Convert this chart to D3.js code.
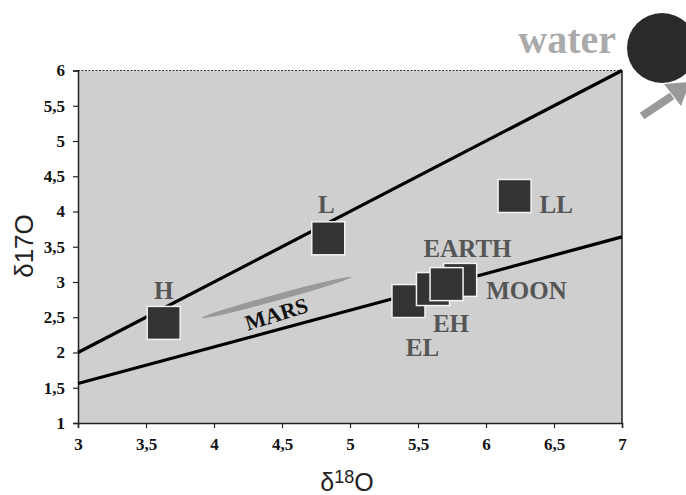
<!DOCTYPE html>
<html>
<head>
<meta charset="utf-8">
<script src="https://cdn.jsdelivr.net/npm/d3@7"></script>
<style>
  html, body { margin: 0; padding: 0; background: #fff; }
  svg { display: block; }
</style>
</head>
<body>
<svg id="chart" width="686" height="495"></svg>
<script>
// Oxygen three-isotope plot: meteorite groups, Earth, Moon, Mars
const xTicks = [3, 3.5, 4, 4.5, 5, 5.5, 6, 6.5, 7];
const yTicks = [1, 1.5, 2, 2.5, 3, 3.5, 4, 4.5, 5, 5.5, 6];
const tickLabel = v => String(v).replace(".", ",");

// Group names and their (δ18O, δ17O) positions, drawn back to front
const groups = ["MOON", "EL", "EH", "EARTH", "H", "L", "LL"];
const d18O   = [5.81, 5.43, 5.61, 5.71, 3.63, 4.84, 6.21];
const d17O   = [3.03, 2.73, 2.90, 2.97, 2.42, 3.62, 4.22];

// Reference lines: slope-1 line and terrestrial fractionation line
const slopeOneLine = [[3, 2.0], [7, 6.0]];
const tflLine      = [[3, 1.56], [7, 3.64]];

// Martian meteorite field (end points of the elongated ellipse)
const marsField = [[3.91, 2.49], [5.01, 3.07]];

const svg = d3.select("#chart");
const x = d3.scaleLinear().domain([3, 7]).range([78, 622]);
const y = d3.scaleLinear().domain([1, 6]).range([423, 70.5]);

const serif = "'Liberation Serif', 'Times New Roman', serif";
const sans = "'Liberation Sans', Arial, sans-serif";

// plot background
svg.append("rect")
  .attr("x", x(3)).attr("y", y(6))
  .attr("width", x(7) - x(3)).attr("height", y(1) - y(6))
  .attr("fill", "#cfcfcf");

// top border dashed, right border solid
svg.append("line")
  .attr("x1", x(3)).attr("x2", x(7)).attr("y1", y(6)).attr("y2", y(6))
  .attr("stroke", "#333").attr("stroke-width", 1.2).attr("stroke-dasharray", "2,1.5");
svg.append("line")
  .attr("x1", x(7)).attr("x2", x(7)).attr("y1", y(6)).attr("y2", y(1))
  .attr("stroke", "#222").attr("stroke-width", 1.5);

// axes
const xAxis = svg.append("g").attr("transform", `translate(0,${y(1)})`)
  .call(d3.axisBottom(x).tickValues(xTicks).tickFormat(tickLabel).tickSize(5).tickPadding(10));
const yAxis = svg.append("g").attr("transform", `translate(${x(3)},0)`)
  .call(d3.axisLeft(y).tickValues(yTicks).tickFormat(tickLabel).tickSize(5).tickPadding(8));
[xAxis, yAxis].forEach(g => {
  g.select(".domain").attr("stroke", "#222").attr("stroke-width", 1.5);
  g.selectAll(".tick line").attr("stroke", "#222").attr("stroke-width", 1.2);
  g.selectAll(".tick text")
    .attr("font-family", serif).attr("font-weight", "bold")
    .attr("font-size", 17).attr("fill", "#111");
});

// reference lines
const lineGen = d3.line().x(d => x(d[0])).y(d => y(d[1]));
[slopeOneLine, tflLine].forEach(pts => {
  svg.append("path").attr("d", lineGen(pts))
    .attr("fill", "none").attr("stroke", "#000").attr("stroke-width", 3.2);
});

// Mars field as a thin rotated ellipse
{
  const [p0, p1] = marsField;
  const cx = (x(p0[0]) + x(p1[0])) / 2, cy = (y(p0[1]) + y(p1[1])) / 2;
  const dx = x(p1[0]) - x(p0[0]), dy = y(p1[1]) - y(p0[1]);
  const len = Math.hypot(dx, dy);
  const ang = Math.atan2(dy, dx) * 180 / Math.PI;
  svg.append("ellipse")
    .attr("cx", cx).attr("cy", cy).attr("rx", len / 2).attr("ry", 3.2)
    .attr("transform", `rotate(${ang},${cx},${cy})`)
    .attr("fill", "#999");
  svg.append("text")
    .attr("x", cx).attr("y", cy + 24)
    .attr("transform", `rotate(${ang - 2},${cx},${cy + 17})`)
    .attr("text-anchor", "middle")
    .attr("font-family", serif).attr("font-weight", "bold")
    .attr("font-size", 22).attr("fill", "#111")
    .text("MARS");
}

// group squares
const sq = 33;
groups.forEach((g, i) => {
  svg.append("rect")
    .attr("x", x(d18O[i]) - sq / 2).attr("y", y(d17O[i]) - sq / 2)
    .attr("width", sq).attr("height", sq)
    .attr("fill", "#333").attr("stroke", "#f2f2f2").attr("stroke-width", 1.5);
});

// group labels (offsets relative to each square)
const labelOffsets = {
  H:     [0, -24, "middle"],
  L:     [-2, -25, "middle"],
  LL:    [25, 17, "start"],
  EARTH: [21, -27, "middle"],
  MOON:  [26, 19, "start"],
  EH:    [18, 43, "middle"],
  EL:    [14, 55, "middle"]
};
groups.forEach((g, i) => {
  const [ox, oy, anchor] = labelOffsets[g];
  svg.append("text")
    .attr("x", x(d18O[i]) + ox).attr("y", y(d17O[i]) + oy)
    .attr("text-anchor", anchor)
    .attr("font-family", serif).attr("font-weight", "bold")
    .attr("font-size", 25).attr("fill", "#555")
    .text(g);
});

// axis titles
const xt = svg.append("text")
  .attr("x", 347).attr("y", 491).attr("text-anchor", "middle")
  .attr("font-family", sans).attr("font-size", 25).attr("fill", "#222");
xt.append("tspan").text("δ");
xt.append("tspan").attr("font-size", 18).attr("dy", -8).text("18");
xt.append("tspan").attr("dy", 8).text("O");

svg.append("text")
  .attr("transform", "translate(33,246) rotate(-90)")
  .attr("text-anchor", "middle")
  .attr("font-family", sans).attr("font-size", 26).attr("fill", "#222")
  .text("δ17O");

// water end member
svg.append("text")
  .attr("x", 616).attr("y", 53).attr("text-anchor", "end")
  .attr("font-family", serif).attr("font-weight", "bold")
  .attr("font-size", 40).attr("fill", "#aaa")
  .text("water");
svg.append("circle")
  .attr("cx", 662).attr("cy", 48).attr("r", 35).attr("fill", "#2a2a2a");

// arrow pointing towards water
svg.append("line")
  .attr("x1", 642).attr("y1", 116).attr("x2", 672).attr("y2", 96)
  .attr("stroke", "#999").attr("stroke-width", 8);
svg.append("path")
  .attr("d", "M664,84 L690,82 L681,106 Z")
  .attr("fill", "#999");
</script>
</body>
</html>
